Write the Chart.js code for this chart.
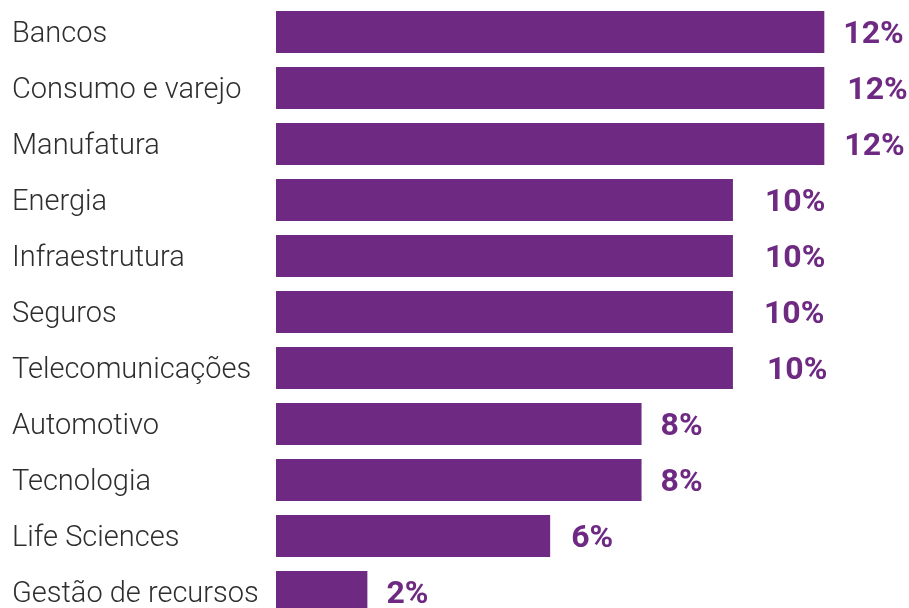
<!DOCTYPE html>
<html>
<head>
<meta charset="utf-8">
<script src="https://cdn.jsdelivr.net/npm/chart.js@4"></script>
<style>
html, body { margin: 0; padding: 0; overflow: hidden; background: #ffffff; }
#wrap { width: 909px; height: 624px; position: relative; }
</style>
</head>
<body>
<div id="wrap"><canvas id="c"></canvas></div>
<script>
const categories = ["Bancos", "Consumo e varejo", "Manufatura", "Energia", "Infraestrutura", "Seguros", "Telecomunicações", "Automotivo", "Tecnologia", "Life Sciences", "Gestão de recursos"];
const values = [12, 12, 12, 10, 10, 10, 10, 8, 8, 6, 2];
const valueLabels = ["12%", "12%", "12%", "10%", "10%", "10%", "10%", "8%", "8%", "6%", "2%"];

const PURPLE = "#6e2a82";
// horizontal gap (px) between bar end and its value label, as in the source layout
const labelGap = [19, 23, 20, 32, 32, 31, 34, 19, 19, 21, 19];

const valueLabelPlugin = {
  id: "valueLabels",
  afterDatasetsDraw(chart) {
    const ctx = chart.ctx;
    const meta = chart.getDatasetMeta(0);
    const size = 32;
    ctx.save();
    ctx.fillStyle = PURPLE;
    ctx.font = "bold " + size + "px Roboto";
    ctx.textAlign = "left";
    ctx.textBaseline = "alphabetic";
    meta.data.forEach((bar, i) => {
      ctx.fillText(valueLabels[i], bar.x + labelGap[i], bar.y + size * 0.711 / 2);
    });
    ctx.restore();
  }
};

new Chart(document.getElementById("c"), {
  type: "bar",
  data: {
    labels: categories,
    datasets: [{
      data: values,
      backgroundColor: PURPLE,
      borderWidth: 0,
      categoryPercentage: 1.0,
      barPercentage: 0.75
    }]
  },
  options: {
    indexAxis: "y",
    responsive: true,
    maintainAspectRatio: false,
    animation: false,
    layout: { padding: { left: 12, right: 39, top: 4, bottom: 4 } },
    plugins: {
      legend: { display: false },
      tooltip: { enabled: false }
    },
    scales: {
      x: {
        display: false,
        min: 0,
        max: 13
      },
      y: {
        grid: { display: false, drawBorder: false },
        border: { display: false },
        ticks: {
          crossAlign: "far",
          color: "#2e2e2e",
          padding: 0,
          labelOffset: 3,
          font: { family: "Roboto", size: 29, weight: "300", lineHeight: 0.01 }
        },
        afterFit(scale) { scale.width = 264; }
      }
    }
  },
  plugins: [valueLabelPlugin]
});
</script>
</body>
</html>
